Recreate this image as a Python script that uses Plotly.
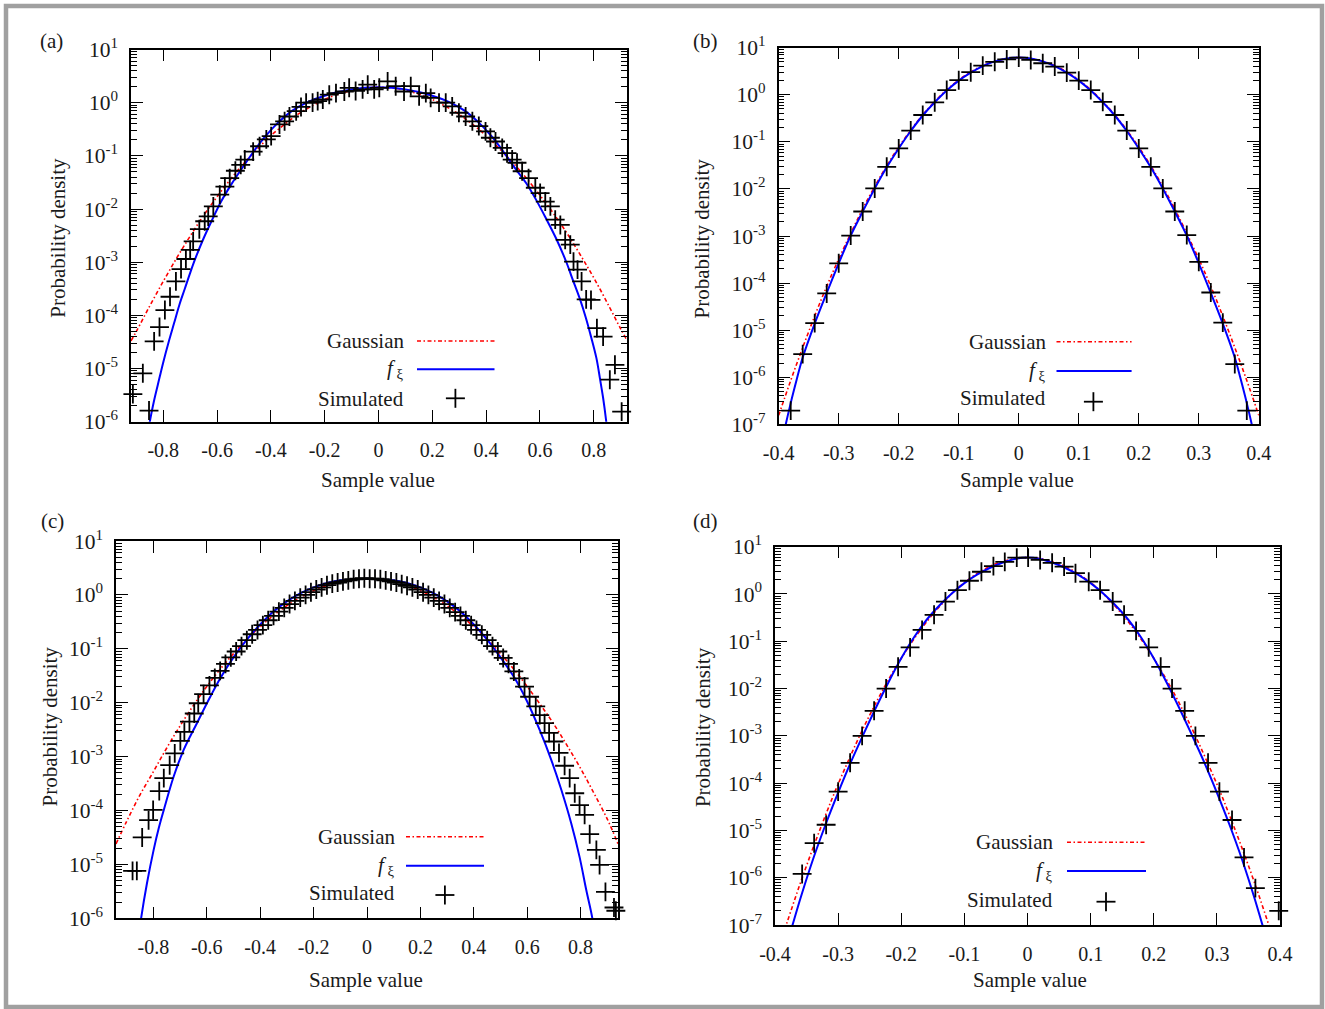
import plotly.graph_objects as go

# ---------------------------------------------------------------------------
# Data (y values stored as log10 of density)
# ---------------------------------------------------------------------------
# Panel (a)
a_gauss_x = [-0.92, -0.90, -0.85, -0.80, -0.75, -0.70, -0.65, -0.60, -0.55, -0.50, -0.45, -0.40, -0.35,
             -0.30, -0.25, -0.20, -0.15, -0.10, -0.05, 0.0, 0.05, 0.10, 0.15, 0.20, 0.25, 0.30, 0.35,
             0.40, 0.45, 0.50, 0.55, 0.60, 0.65, 0.70, 0.75, 0.80, 0.85, 0.90, 0.922]
a_gauss_log10 = [-4.48, -4.30, -3.82, -3.36, -2.92, -2.51, -2.12, -1.77, -1.44, -1.14, -0.87, -0.62, -0.41,
                 -0.22, -0.07, 0.06, 0.16, 0.23, 0.28, 0.29, 0.28, 0.23, 0.16, 0.06, -0.07, -0.22, -0.41,
                 -0.62, -0.87, -1.13, -1.42, -1.74, -2.08, -2.45, -2.86, -3.29, -3.76, -4.25, -4.45]
a_fxi_x = [-0.86, -0.85, -0.835, -0.82, -0.80, -0.78, -0.76, -0.74, -0.72, -0.70, -0.68, -0.65, -0.62,
           -0.584, -0.55, -0.50, -0.46, -0.42, -0.374, -0.32, -0.263, -0.20, -0.15, -0.10, -0.05, 0.0,
           0.05, 0.10, 0.15, 0.20, 0.263, 0.32, 0.374, 0.42, 0.46, 0.50, 0.55, 0.583, 0.62, 0.66, 0.70,
           0.72, 0.75, 0.77, 0.787, 0.81, 0.824, 0.835, 0.846, 0.855]
a_fxi_log10 = [-6.35, -6.0, -5.62, -5.3, -4.88, -4.5, -4.15, -3.8, -3.5, -3.2, -2.92, -2.55, -2.22,
               -1.85, -1.56, -1.18, -0.89, -0.63, -0.38, -0.15, 0.01, 0.13, 0.20, 0.25, 0.28, 0.29,
               0.28, 0.25, 0.20, 0.13, 0.01, -0.15, -0.38, -0.63, -0.89, -1.18, -1.52, -1.80, -2.15, -2.55, -3.02,
               -3.30, -3.71, -4.03, -4.34, -4.80, -5.21, -5.55, -5.97, -6.4]
a_sim_x = [-0.913, -0.876, -0.853, -0.834, -0.814, -0.794, -0.775, -0.753, -0.734, -0.716,
           -0.700, -0.689, -0.666, -0.646, -0.633, -0.614, -0.590, -0.571, -0.553, -0.532,
           -0.512, -0.497, -0.466, -0.442, -0.417, -0.399, -0.368, -0.349, -0.331, -0.306,
           -0.288, -0.269, -0.245, -0.226, -0.207, -0.183, -0.158, -0.127, -0.109, -0.085,
           -0.059, -0.040, -0.016, 0.003, 0.034, 0.064, 0.095, 0.120, 0.151, 0.176,
           0.194, 0.225, 0.250, 0.274, 0.299, 0.324, 0.349, 0.373, 0.398, 0.416,
           0.435, 0.460, 0.478, 0.497, 0.515, 0.534, 0.558, 0.583, 0.601, 0.620,
           0.639, 0.657, 0.676, 0.694, 0.713, 0.725, 0.740, 0.755, 0.772, 0.790,
           0.812, 0.835, 0.860, 0.879, 0.904]
a_sim_log10 = [-5.48, -5.09, -5.79, -4.49, -4.22, -3.90, -3.65, -3.36, -3.13, -2.94,
               -2.77, -2.61, -2.38, -2.23, -2.14, -1.95, -1.73, -1.58, -1.42, -1.28,
               -1.17, -1.07, -0.92, -0.82, -0.69, -0.63, -0.41, -0.35, -0.26, -0.16,
               -0.08, 0.0, 0.0, 0.03, 0.06, 0.15, 0.18, 0.21, 0.28, 0.22,
               0.25, 0.34, 0.25, 0.28, 0.40, 0.31, 0.21, 0.31, 0.12, 0.18,
               0.09, 0.0, 0.0, -0.07, -0.19, -0.26, -0.35, -0.44, -0.54, -0.66,
               -0.73, -0.85, -0.95, -1.07, -1.13, -1.29, -1.42, -1.60, -1.70, -1.86,
               -1.95, -2.20, -2.30, -2.58, -2.67, -2.99, -3.14, -3.36, -3.70, -3.71,
               -4.24, -4.40, -5.21, -4.93, -5.81]

# Panel (b)
b_gauss_x = [-0.40, -0.38, -0.36, -0.34, -0.32, -0.30, -0.25, -0.20, -0.15, -0.10, -0.05, 0.0,
             0.05, 0.10, 0.15, 0.20, 0.25, 0.30, 0.32, 0.34, 0.36, 0.38, 0.40]
b_gauss_log10 = [-6.81, -6.07, -5.37, -4.70, -4.07, -3.49, -2.18, -1.11, -0.28, 0.315, 0.67, 0.79,
                 0.67, 0.315, -0.28, -1.11, -2.18, -3.49, -4.07, -4.70, -5.37, -6.07, -6.81]
b_fxi_x = [-0.40, -0.39, -0.38, -0.37, -0.36, -0.34, -0.32, -0.30, -0.28, -0.26, -0.24, -0.22, -0.20,
           -0.18, -0.16, -0.14, -0.12, -0.10, -0.08, -0.06, -0.04, -0.02, 0.0,
           0.02, 0.04, 0.06, 0.08, 0.10, 0.12, 0.14, 0.16, 0.18, 0.20, 0.22, 0.24, 0.26, 0.28, 0.30,
           0.32, 0.34, 0.36, 0.37, 0.38, 0.39, 0.40]
b_fxi_log10 = [-7.7, -7.1, -6.55, -6.05, -5.58, -4.86, -4.21, -3.58, -2.99, -2.48, -1.99, -1.54, -1.14,
               -0.77, -0.44, -0.16, 0.09, 0.30, 0.47, 0.61, 0.71, 0.77, 0.79,
               0.77, 0.71, 0.61, 0.47, 0.30, 0.09, -0.16, -0.44, -0.77, -1.14, -1.54, -1.99, -2.48, -2.99, -3.58,
               -4.21, -4.86, -5.58, -6.05, -6.55, -7.1, -7.7]
b_sim_x = [-0.38, -0.36, -0.34, -0.32, -0.30, -0.28, -0.26, -0.24, -0.22, -0.20,
           -0.18, -0.16, -0.14, -0.12, -0.10, -0.08, -0.06, -0.04, -0.02, 0.0,
           0.02, 0.04, 0.06, 0.08, 0.10, 0.12, 0.14, 0.16, 0.18, 0.20,
           0.22, 0.24, 0.26, 0.28, 0.30, 0.32, 0.34, 0.36, 0.38]
b_sim_log10 = [-6.71, -5.51, -4.85, -4.22, -3.58, -2.99, -2.48, -1.99, -1.53, -1.14,
               -0.76, -0.43, -0.16, 0.10, 0.31, 0.48, 0.62, 0.70, 0.75, 0.79,
               0.74, 0.67, 0.60, 0.47, 0.30, 0.10, -0.15, -0.43, -0.76, -1.14,
               -1.53, -1.99, -2.48, -2.98, -3.55, -4.20, -4.84, -5.72, -6.71]

# Panel (c)
c_gauss_x = [-0.94, -0.90, -0.85, -0.80, -0.75, -0.70, -0.65, -0.60, -0.55, -0.50, -0.45, -0.40, -0.35,
             -0.30, -0.25, -0.20, -0.15, -0.10, -0.05, 0.0, 0.05, 0.10, 0.15, 0.20, 0.25, 0.30, 0.35,
             0.40, 0.45, 0.50, 0.55, 0.60, 0.65, 0.70, 0.75, 0.80, 0.85, 0.90, 0.94]
c_gauss_log10 = [-4.62, -4.2, -3.71, -3.28, -2.84, -2.43, -2.05, -1.70, -1.38, -1.09, -0.82, -0.59, -0.38,
                 -0.20, -0.047, 0.078, 0.175, 0.245, 0.286, 0.30, 0.286, 0.245, 0.175, 0.078, -0.047, -0.20, -0.38,
                 -0.59, -0.82, -1.09, -1.38, -1.70, -2.04, -2.40, -2.80, -3.22, -3.68, -4.16, -4.62]
c_fxi_x = [-0.86, -0.846, -0.824, -0.799, -0.78, -0.761, -0.724, -0.687, -0.637, -0.587, -0.55, -0.50,
           -0.45, -0.40, -0.35, -0.30, -0.25, -0.20, -0.15, -0.10, -0.05, 0.0,
           0.05, 0.10, 0.15, 0.20, 0.25, 0.30, 0.35, 0.40, 0.45, 0.50, 0.55, 0.597, 0.647, 0.69, 0.728,
           0.765, 0.796, 0.821, 0.844, 0.858]
c_fxi_log10 = [-6.5, -6.0, -5.35, -4.73, -4.33, -3.99, -3.37, -2.88, -2.38, -1.89, -1.55, -1.16,
               -0.83, -0.55, -0.31, -0.12, 0.03, 0.14, 0.22, 0.27, 0.29, 0.30,
               0.29, 0.27, 0.22, 0.14, 0.03, -0.12, -0.31, -0.55, -0.83, -1.16, -1.52, -1.95, -2.51, -3.06, -3.62,
               -4.24, -4.86, -5.47, -6.0, -6.5]
c_sim_x = [-0.878, -0.862, -0.842, -0.818, -0.801, -0.778, -0.761, -0.739, -0.720, -0.699,
           -0.684, -0.665, -0.647, -0.632, -0.612,
           -0.59, -0.57, -0.55, -0.53, -0.51, -0.49, -0.47, -0.45, -0.43, -0.41,
           -0.39, -0.37, -0.35, -0.33, -0.31, -0.29, -0.27, -0.25, -0.23, -0.21,
           -0.19, -0.17, -0.15, -0.13, -0.11, -0.09, -0.07, -0.05, -0.03, -0.01,
           0.01, 0.03, 0.05, 0.07, 0.09, 0.11, 0.13, 0.15, 0.17, 0.19,
           0.21, 0.23, 0.25, 0.27, 0.29, 0.31, 0.33, 0.35, 0.37, 0.39,
           0.41, 0.43, 0.45, 0.47, 0.49, 0.51, 0.53, 0.55, 0.57, 0.59,
           0.609, 0.632, 0.647, 0.665, 0.682, 0.700, 0.719, 0.740, 0.759, 0.778,
           0.796, 0.815, 0.834, 0.859, 0.871, 0.893, 0.925, 0.932]
c_sim_log10 = [-5.12, -5.12, -4.50, -4.18, -3.99, -3.64, -3.40, -3.16, -2.94, -2.71,
               -2.54, -2.35, -2.20, -2.01, -1.84,
               -1.68, -1.54, -1.41, -1.28, -1.16, -1.05, -0.95, -0.84, -0.73, -0.65,
               -0.56, -0.47, -0.39, -0.31, -0.24, -0.17, -0.11, -0.05, 0.00, 0.05,
               0.10, 0.14, 0.18, 0.21, 0.23, 0.25, 0.27, 0.29, 0.30, 0.31,
               0.30, 0.30, 0.29, 0.27, 0.25, 0.23, 0.20, 0.17, 0.14, 0.10,
               0.05, 0.00, -0.05, -0.11, -0.17, -0.24, -0.32, -0.39, -0.47, -0.56,
               -0.65, -0.74, -0.84, -0.95, -1.05, -1.17, -1.28, -1.42, -1.55, -1.70,
               -1.89, -2.07, -2.23, -2.38, -2.56, -2.72, -2.93, -3.17, -3.40, -3.68,
               -3.90, -4.08, -4.44, -4.73, -5.01, -5.51, -5.80, -5.86]

# Panel (d)
d_gauss_x = [-0.40, -0.38, -0.36, -0.34, -0.32, -0.30, -0.25, -0.20, -0.15, -0.10, -0.05, 0.0,
             0.05, 0.10, 0.15, 0.20, 0.25, 0.30, 0.32, 0.34, 0.36, 0.38, 0.40]
d_gauss_log10 = [-7.74, -6.91, -6.12, -5.38, -4.68, -4.02, -2.56, -1.36, -0.43, 0.24, 0.64, 0.77,
                 0.64, 0.24, -0.43, -1.36, -2.56, -4.02, -4.68, -5.38, -6.12, -6.91, -7.74]
d_fxi_x = [-0.38, -0.37, -0.36, -0.34, -0.32, -0.30, -0.28, -0.26, -0.24, -0.22, -0.20, -0.18, -0.16,
           -0.14, -0.12, -0.10, -0.08, -0.06, -0.04, -0.02, 0.0,
           0.02, 0.04, 0.06, 0.08, 0.10, 0.12, 0.14, 0.16, 0.18, 0.20, 0.22, 0.24, 0.26, 0.28, 0.30,
           0.32, 0.34, 0.36, 0.37, 0.38]
d_fxi_log10 = [-7.35, -6.9, -6.45, -5.62, -4.88, -4.2, -3.56, -2.97, -2.4, -1.86, -1.36, -0.92, -0.55,
               -0.25, 0.01, 0.23, 0.41, 0.55, 0.66, 0.74, 0.77,
               0.74, 0.66, 0.55, 0.41, 0.23, 0.01, -0.25, -0.55, -0.92, -1.36, -1.86, -2.4, -2.97, -3.56, -4.2,
               -4.88, -5.62, -6.45, -6.9, -7.35]
d_sim_x = [-0.357, -0.338, -0.319, -0.300, -0.281, -0.262, -0.243, -0.224, -0.205, -0.186,
           -0.167, -0.148, -0.130, -0.111, -0.092, -0.073, -0.054, -0.036, -0.017, 0.001,
           0.020, 0.039, 0.058, 0.076, 0.097, 0.115, 0.135, 0.153, 0.172, 0.192,
           0.211, 0.229, 0.249, 0.266, 0.286, 0.304, 0.324, 0.343, 0.361, 0.398]
d_sim_log10 = [-5.92, -5.27, -4.88, -4.18, -3.57, -3.00, -2.47, -2.00, -1.54, -1.13,
               -0.76, -0.44, -0.16, 0.08, 0.28, 0.47, 0.59, 0.68, 0.77, 0.77,
               0.72, 0.66, 0.58, 0.44, 0.26, 0.08, -0.16, -0.44, -0.78, -1.13,
               -1.54, -2.00, -2.47, -3.00, -3.57, -4.18, -4.78, -5.57, -6.22, -6.70]

# Tick labels
wide_xticks = [-0.8, -0.6, -0.4, -0.2, 0.0, 0.2, 0.4, 0.6, 0.8]
wide_xticktext = ["-0.8", "-0.6", "-0.4", "-0.2", "0", "0.2", "0.4", "0.6", "0.8"]
narrow_xticks = [-0.4, -0.3, -0.2, -0.1, 0.0, 0.1, 0.2, 0.3, 0.4]
narrow_xticktext = ["-0.4", "-0.3", "-0.2", "-0.1", "0", "0.1", "0.2", "0.3", "0.4"]
decades_6 = [-6, -5, -4, -3, -2, -1, 0, 1]
decades_7 = [-7, -6, -5, -4, -3, -2, -1, 0, 1]

legend_names = ["Gaussian", "<i>f</i><sub> ξ</sub>", "Simulated"]
x_title = "Sample value"
y_title = "Probability density"

# ---------------------------------------------------------------------------
W, H = 1325, 1009
FONT = "Liberation Serif, Times New Roman, serif"
TXT = "#1a1a1a"


def px(x):
    return x / W


def py(y):
    return 1 - y / H


def pow10(vals):
    return [10 ** v for v in vals]


panels = [
    dict(key="a", label="(a)", xdom=(131, 626.5), ydom=(49.5, 421.7), xr=(-0.92, 0.922),
         dec=decades_6, xt=wide_xticks, xtt=wide_xticktext,
         g=(a_gauss_x, a_gauss_log10), f=(a_fxi_x, a_fxi_log10), s=(a_sim_x, a_sim_log10),
         lab=(51.5, 40.7), ytl=(57.7, 238), xtl=(378, 480),
         leg=dict(tx=406, lx0=417, lx1=494.5, yg=341, yf=369.3, ys=399.5, plus=(455.4, 398.3))),
    dict(key="b", label="(b)", xdom=(778.7, 1258.8), ydom=(47.7, 424.3), xr=(-0.4, 0.4),
         dec=decades_7, xt=narrow_xticks, xtt=narrow_xticktext,
         g=(b_gauss_x, b_gauss_log10), f=(b_fxi_x, b_fxi_log10), s=(b_sim_x, b_sim_log10),
         lab=(705, 40.7), ytl=(702.4, 238), xtl=(1017, 480),
         leg=dict(tx=1048, lx0=1056.5, lx1=1131.6, yg=341.7, yf=371, ys=398.3, plus=(1093.4, 401.7))),
    dict(key="c", label="(c)", xdom=(116, 618), ydom=(541, 918.3), xr=(-0.94, 0.94),
         dec=decades_6, xt=wide_xticks, xtt=wide_xticktext,
         g=(c_gauss_x, c_gauss_log10), f=(c_fxi_x, c_fxi_log10), s=(c_sim_x, c_sim_log10),
         lab=(52.5, 520.7), ytl=(49.7, 726.7), xtl=(365.7, 980),
         leg=dict(tx=397, lx0=406, lx1=484, yg=836.7, yf=865.7, ys=893.3, plus=(444.9, 895))),
    dict(key="d", label="(d)", xdom=(775, 1280), ydom=(546.7, 925), xr=(-0.4, 0.4),
         dec=decades_7, xt=narrow_xticks, xtt=narrow_xticktext,
         g=(d_gauss_x, d_gauss_log10), f=(d_fxi_x, d_fxi_log10), s=(d_sim_x, d_sim_log10),
         lab=(705, 520.7), ytl=(702.4, 726.7), xtl=(1030, 980),
         leg=dict(tx=1055, lx0=1067, lx1=1146, yg=842.3, yf=871, ys=900, plus=(1106, 901.7))),
]

fig = go.Figure()
annotations = []
shapes = []
layout_axes = {}

for i, p in enumerate(panels):
    n = "" if i == 0 else str(i + 1)
    xa, ya = "x" + n, "y" + n
    gx, gl = p["g"]
    fx, fl = p["f"]
    sx, sl = p["s"]
    fig.add_trace(go.Scatter(x=gx, y=pow10(gl), mode="lines", xaxis=xa, yaxis=ya,
                             line=dict(color="#ff0000", width=1.6, dash="4px,2.5px,1.5px,2.5px",
                                       shape="spline", smoothing=1.0),
                             showlegend=False, hoverinfo="skip"))
    fig.add_trace(go.Scatter(x=fx, y=pow10(fl), mode="lines", xaxis=xa, yaxis=ya,
                             line=dict(color="#0000ff", width=2, shape="spline", smoothing=1.0),
                             showlegend=False, hoverinfo="skip"))
    fig.add_trace(go.Scatter(x=sx, y=pow10(sl), mode="markers", xaxis=xa, yaxis=ya, cliponaxis=False,
                             marker=dict(symbol="cross-thin", size=13.5, color="black",
                                         line=dict(color="black", width=1.8)),
                             showlegend=False, hoverinfo="skip"))

    dec = p["dec"]
    minor_vals = [m * 10.0 ** e for e in range(dec[0], dec[-1]) for m in range(2, 10)]
    axis_common = dict(showline=True, linecolor="black", linewidth=1.5, mirror="allticks",
                       ticks="inside", tickcolor="black", tickwidth=1.3, ticklen=12,
                       showgrid=False, zeroline=False, automargin=False)
    layout_axes["xaxis" + n] = dict(axis_common, domain=[px(p["xdom"][0]), px(p["xdom"][1])],
                                    anchor=ya, range=list(p["xr"]), tickmode="array",
                                    tickvals=p["xt"], ticktext=p["xtt"], ticklabelstandoff=10,
                                    tickfont=dict(family=FONT, size=20, color=TXT))
    layout_axes["yaxis" + n] = dict(axis_common, domain=[py(p["ydom"][1]), py(p["ydom"][0])],
                                    anchor=xa, type="log", range=[dec[0], dec[-1]],
                                    tickmode="array", tickvals=[10.0 ** e for e in dec],
                                    ticktext=["10<sup>%d</sup>" % e for e in dec],
                                    ticklabelstandoff=7,
                                    tickfont=dict(family=FONT, size=21.5, color=TXT),
                                    minor=dict(ticks="inside", ticklen=6, tickwidth=1, tickcolor="black",
                                               tickmode="array", tickvals=minor_vals, showgrid=False))

    # panel label and axis titles
    annotations.append(dict(x=px(p["lab"][0]), y=py(p["lab"][1]), xref="paper", yref="paper",
                            text=p["label"], showarrow=False, xanchor="center", yanchor="middle",
                            font=dict(family=FONT, size=21, color=TXT)))
    annotations.append(dict(x=px(p["ytl"][0]), y=py(p["ytl"][1]), xref="paper", yref="paper",
                            text=y_title, textangle=-90, showarrow=False, xanchor="center",
                            yanchor="middle", font=dict(family=FONT, size=21, color=TXT)))
    annotations.append(dict(x=px(p["xtl"][0]), y=py(p["xtl"][1]), xref="paper", yref="paper",
                            text=x_title, showarrow=False, xanchor="center", yanchor="middle",
                            font=dict(family=FONT, size=21, color=TXT)))

    # legend (text on the left, key on the right, as in the reference)
    L = p["leg"]
    for name, yy in zip(legend_names, [L["yg"], L["yf"], L["ys"]]):
        annotations.append(dict(x=px(L["tx"]), y=py(yy), xref="paper", yref="paper", text=name,
                                showarrow=False, xanchor="right", yanchor="middle",
                                font=dict(family=FONT, size=21, color=TXT)))
    shapes.append(dict(type="line", xref="paper", yref="paper", x0=px(L["lx0"]), x1=px(L["lx1"]),
                       y0=py(L["yg"]), y1=py(L["yg"]),
                       line=dict(color="#ff0000", width=1.6, dash="4px,2.5px,1.5px,2.5px")))
    shapes.append(dict(type="line", xref="paper", yref="paper", x0=px(L["lx0"]), x1=px(L["lx1"]),
                       y0=py(L["yf"]), y1=py(L["yf"]), line=dict(color="#0000ff", width=2)))
    cx, cy = L["plus"]
    shapes.append(dict(type="line", xref="paper", yref="paper", x0=px(cx - 9.5), x1=px(cx + 9.5),
                       y0=py(cy), y1=py(cy), line=dict(color="black", width=1.8)))
    shapes.append(dict(type="line", xref="paper", yref="paper", x0=px(cx), x1=px(cx),
                       y0=py(cy - 9.5), y1=py(cy + 9.5), line=dict(color="black", width=1.8)))

# outer grey frame
shapes.append(dict(type="rect", xref="paper", yref="paper", x0=px(6), x1=px(1322), y0=py(1007), y1=py(6),
                   line=dict(color="#a0a0a0", width=4.5), fillcolor="rgba(0,0,0,0)", layer="below"))

fig.update_layout(width=W, height=H, autosize=False,
                  margin=dict(l=0, r=0, t=0, b=0, pad=0, autoexpand=False),
                  paper_bgcolor="white", plot_bgcolor="white", showlegend=False,
                  annotations=annotations, shapes=shapes, **layout_axes)

fig.write_html("out.html", config={"displayModeBar": False},
               post_script="document.body.style.margin='0';")
